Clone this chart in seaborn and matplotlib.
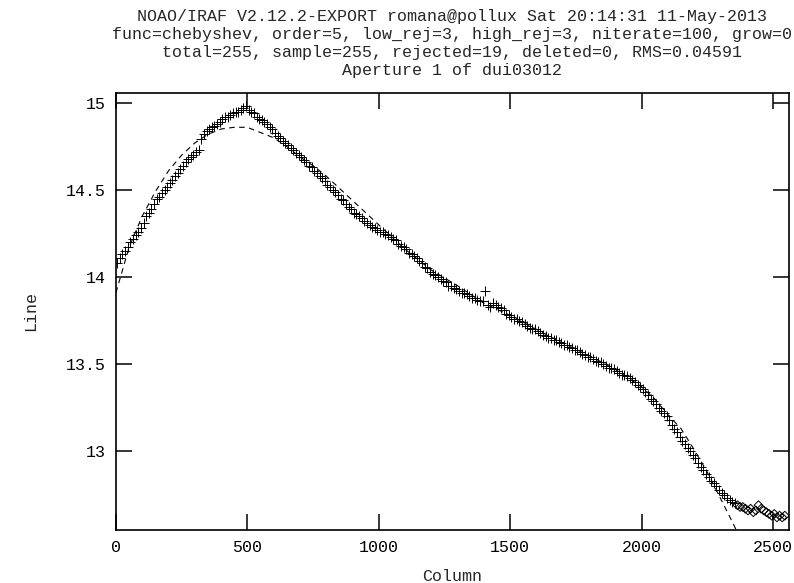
import numpy as np
import pandas as pd
import matplotlib
matplotlib.use("Agg")
import matplotlib.pyplot as plt
import seaborn as sns

# IRAF header lines
title_lines = [
    "NOAO/IRAF V2.12.2-EXPORT romana@pollux Sat 20:14:31 11-May-2013",
    "func=chebyshev, order=5, low_rej=3, high_rej=3, niterate=100, grow=0",
    "total=255, sample=255, rejected=19, deleted=0, RMS=0.04591",
    "Aperture 1 of dui03012",
]

# sample columns (one point every 10 columns)
columns = np.arange(5, 2550, 10)

line_vals = [
    14.08, 14.11, 14.13, 14.15, 14.17, 14.20, 14.22, 14.24, 14.26, 14.28,
    14.31, 14.35, 14.37, 14.39, 14.42, 14.45, 14.46, 14.48, 14.50, 14.52,
    14.54, 14.56, 14.58, 14.60, 14.62, 14.64, 14.66, 14.68, 14.69, 14.70,
    14.72, 14.73, 14.79, 14.82, 14.84, 14.85, 14.86, 14.87, 14.88, 14.89,
    14.91, 14.92, 14.92, 14.93, 14.94, 14.95, 14.95, 14.96, 14.97, 14.98,
    14.96, 14.95, 14.94, 14.92, 14.91, 14.90, 14.89, 14.88, 14.86, 14.85,
    14.83, 14.81, 14.80, 14.78, 14.77, 14.76, 14.74, 14.73, 14.71, 14.70,
    14.69, 14.67, 14.66, 14.64, 14.63, 14.61, 14.60, 14.58, 14.57, 14.55,
    14.53, 14.52, 14.50, 14.49, 14.47, 14.45, 14.44, 14.42, 14.40, 14.39,
    14.37, 14.36, 14.35, 14.34, 14.32, 14.31, 14.30, 14.29, 14.28, 14.27,
    14.26, 14.26, 14.25, 14.24, 14.23, 14.22, 14.21, 14.19, 14.18, 14.17,
    14.16, 14.14, 14.13, 14.12, 14.11, 14.09, 14.08, 14.06, 14.05, 14.03,
    14.02, 14.01, 14.00, 13.99, 13.98, 13.97, 13.95, 13.95, 13.94, 13.93,
    13.92, 13.91, 13.91, 13.90, 13.89, 13.88, 13.88, 13.87, 13.86, 13.86,
    13.92, 13.84, 13.83, 13.85, 13.84, 13.83, 13.82, 13.81, 13.79, 13.78,
    13.77, 13.76, 13.76, 13.75, 13.74, 13.73, 13.72, 13.71, 13.70, 13.70,
    13.69, 13.68, 13.67, 13.66, 13.65, 13.65, 13.64, 13.64, 13.63, 13.62,
    13.61, 13.61, 13.60, 13.59, 13.58, 13.58, 13.57, 13.56, 13.55, 13.54,
    13.54, 13.53, 13.52, 13.51, 13.51, 13.50, 13.49, 13.48, 13.48, 13.47,
    13.46, 13.45, 13.44, 13.44, 13.43, 13.42, 13.41, 13.40, 13.38, 13.37,
    13.36, 13.34, 13.32, 13.30, 13.29, 13.27, 13.25, 13.23, 13.22, 13.20,
    13.18, 13.15, 13.13, 13.11, 13.08, 13.06, 13.04, 13.02, 13.00, 12.98,
    12.96, 12.93, 12.91, 12.89, 12.87, 12.85, 12.83, 12.82, 12.80, 12.78,
    12.76, 12.75, 12.73, 12.72, 12.71, 12.70, 12.69, 12.68, 12.68, 12.67,
    12.66, 12.67, 12.65, 12.66, 12.69, 12.67, 12.66, 12.65, 12.64, 12.63,
    12.64, 12.62, 12.63, 12.62, 12.63,
]
n_rejected = 19  # the last points are rejected from the fit (diamonds)

# chebyshev fit curve
fit_cols = [0, 50, 100, 150, 200, 250, 300, 350, 400, 450, 500, 550, 600, 650,
            700, 750, 800, 850, 900, 950, 1000, 1100, 1200, 1300, 1400, 1500,
            1600, 1700, 1800, 1900, 2000, 2050, 2100, 2150, 2200, 2250, 2300,
            2350, 2400]
fit_vals = [13.91, 14.17, 14.35, 14.49, 14.61, 14.70, 14.77, 14.82, 14.85, 14.86,
            14.86, 14.83, 14.80, 14.75, 14.69, 14.64, 14.58, 14.51, 14.44, 14.37,
            14.30, 14.16, 14.04, 13.95, 13.85, 13.78, 13.70, 13.62, 13.55, 13.47,
            13.37, 13.30, 13.21, 13.13, 13.01, 12.88, 12.73, 12.58, 12.42]

xticks = [0, 500, 1000, 1500, 2000, 2500]
yticks = [13, 13.5, 14, 14.5, 15]
ytick_labels = ["13", "13.5", "14", "14.5", "15"]

df = pd.DataFrame({"Column": columns, "Line": line_vals})
df["status"] = "used"
df.loc[df.index[-n_rejected:], "status"] = "rejected"
fit_df = pd.DataFrame({"Column": fit_cols, "Line": fit_vals})

sns.set_style("ticks")
plt.rcParams["font.family"] = ["Liberation Mono", "DejaVu Sans"]

fig = plt.figure(figsize=(7.94, 5.83), dpi=100)
ax = fig.add_axes([0.146, 0.091, 0.8477, 0.7495])

used = df[df["status"] == "used"]
rej = df[df["status"] == "rejected"]
sns.scatterplot(data=used, x="Column", y="Line", marker="+", s=50,
                color="black", linewidth=0.7, ax=ax, zorder=3)
sns.scatterplot(data=rej, x="Column", y="Line", marker="D", s=20,
                facecolor="none", edgecolor="black", linewidth=0.7, ax=ax, zorder=3)
sns.lineplot(data=fit_df, x="Column", y="Line", color="black", linewidth=0.8,
             linestyle=(0, (5, 4)), ax=ax, zorder=2)

ax.set_xlim(0, 2561)
ax.set_ylim(12.548, 15.057)
ax.set_xticks(xticks)
ax.set_yticks(yticks)
ax.set_yticklabels(ytick_labels)
ax.tick_params(direction="in", length=11.5, width=1.1, top=True, right=True,
               labelsize=12, pad=7, colors="black")
for sp in ax.spines.values():
    sp.set_linewidth(1.2)
    sp.set_color("black")

ax.set_xlabel("Column", fontsize=12, labelpad=10)
ax.set_ylabel("Line", fontsize=12, labelpad=20)

# header, one line at a time, centred over the plot box
title_y = [17, 35, 52, 70]
for txt, ypx in zip(title_lines, title_y):
    fig.text(0.5695, 1 - ypx / 583, txt, ha="center", va="center", fontsize=12)

fig.savefig("out.png", dpi=100)
